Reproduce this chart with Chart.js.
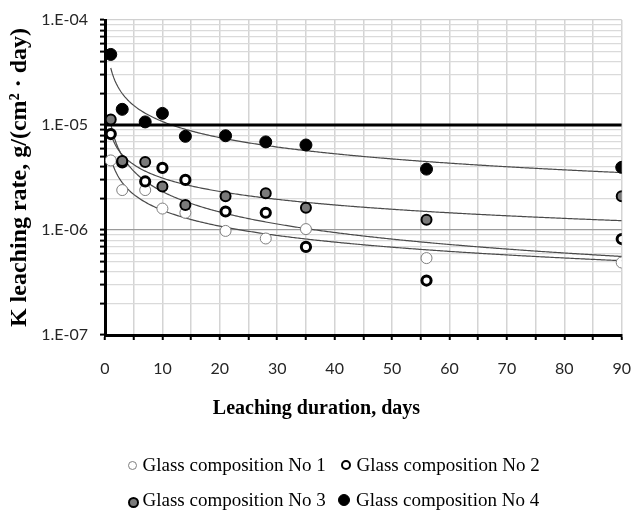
<!DOCTYPE html>
<html>
<head>
<meta charset="utf-8">
<script src="https://cdn.jsdelivr.net/npm/chart.js@4/dist/chart.umd.min.js"></script>
<style>
  html, body { margin: 0; padding: 0; background: #fff; }
  #wrap { position: relative; width: 633px; height: 511px; overflow: hidden; }
  #chart { position: absolute; left: 0; top: 0; }
  .xtitle { position: absolute; left: 0; width: 633px; top: 395px; text-align: center;
            font: bold 20px "Liberation Serif", serif; line-height: 24px; color: #000; }
  .item { position: absolute; font: 19px "Liberation Serif", serif; line-height: 22px;
          color: #000; white-space: nowrap; }
  .mk { position: absolute; border-radius: 50%; box-sizing: border-box; }
</style>
</head>
<body>
<div id="wrap">
  <canvas id="chart" width="633" height="511"></canvas>
  <div class="xtitle" id="xtitle"></div>
  <div id="legend"></div>
</div>
<script>
// Leaching duration, days
const days = [1, 3, 7, 10, 14, 21, 28, 35, 56, 90];

// K leaching rate, g/(cm2·day), per glass composition
const glass1 = [4.6e-6, 2.4e-6, 2.4e-6, 1.6e-6, 1.46e-6, 9.8e-7, 8.3e-7, 1.02e-6, 5.4e-7, 4.9e-7];
const glass2 = [8.2e-6, 4.4e-6, 2.9e-6, 3.9e-6, 3.0e-6, 1.5e-6, 1.46e-6, 6.9e-7, 3.3e-7, 8.2e-7];
const glass3 = [1.13e-5, 4.55e-6, 4.45e-6, 2.6e-6, 1.73e-6, 2.1e-6, 2.24e-6, 1.63e-6, 1.25e-6, 2.1e-6];
const glass4 = [4.7e-5, 1.41e-5, 1.07e-5, 1.29e-5, 7.8e-6, 7.9e-6, 6.9e-6, 6.45e-6, 3.8e-6, 3.95e-6];

const seriesNames = ['Glass composition No 1', 'Glass composition No 2',
                     'Glass composition No 3', 'Glass composition No 4'];

// Reference level drawn as a thick horizontal line
const limitRate = 1e-5;

// Axis ticks
const xTickValues = [0, 10, 20, 30, 40, 50, 60, 70, 80, 90];
const xTickLabels = ['0', '10', '20', '30', '40', '50', '60', '70', '80', '90'];
const yDecades = [1e-7, 1e-6, 1e-5, 1e-4];
const yTickLabels = ['1.E-07', '1.E-06', '1.E-05', '1.E-04'];

const xTitle = 'Leaching duration, days';
const yTitle = 'K leaching rate, g/(cm\u00B2 \u00B7 day)';

// Marker look for each composition
const markerStyles = [
  { fill: '#ffffff', edge: '#7f7f7f', edgeWidth: 1,   radius: 5.5 },
  { fill: '#ffffff', edge: '#000000', edgeWidth: 3,   radius: 4.6 },
  { fill: '#7a7a7a', edge: '#000000', edgeWidth: 2,   radius: 5 },
  { fill: '#000000', edge: '#000000', edgeWidth: 1,   radius: 6 }
];

// Least-squares power fit y = a * x^b (linear in log-log space)
function powerFit(xs, ys) {
  const lx = xs.map(Math.log10), ly = ys.map(Math.log10);
  const n = lx.length;
  const mx = lx.reduce((s, v) => s + v, 0) / n;
  const my = ly.reduce((s, v) => s + v, 0) / n;
  let sxy = 0, sxx = 0;
  for (let i = 0; i < n; i++) { sxy += (lx[i] - mx) * (ly[i] - my); sxx += (lx[i] - mx) ** 2; }
  const b = sxy / sxx;
  return { a: Math.pow(10, my - b * mx), b };
}

function trendPoints(xs, ys) {
  const f = powerFit(xs, ys);
  const x0 = xs[0], x1 = xs[xs.length - 1];
  const pts = [];
  for (let x = x0; x <= x1 + 1e-9; x += 0.25) pts.push({ x, y: f.a * Math.pow(x, f.b) });
  return pts;
}

const allSeries = [glass1, glass2, glass3, glass4];

const datasets = [];
allSeries.forEach((vals, i) => {
  const m = markerStyles[i];
  datasets.push({
    label: seriesNames[i],
    data: days.map((d, k) => ({ x: d, y: vals[k] })),
    showLine: false,
    pointRadius: m.radius,
    pointBackgroundColor: m.fill,
    pointBorderColor: m.edge,
    pointBorderWidth: m.edgeWidth,
    order: 4 - i
  });
});
allSeries.forEach((vals, i) => {
  datasets.push({
    label: 'trend ' + (i + 1),
    data: trendPoints(days, vals),
    showLine: true,
    borderColor: '#4a4a4a',
    borderWidth: 1.2,
    pointRadius: 0,
    order: 10
  });
});
datasets.push({
  label: 'limit',
  data: [{ x: 0, y: limitRate }, { x: 90, y: limitRate }],
  showLine: true,
  borderColor: '#000',
  borderWidth: 3,
  pointRadius: 0,
  order: 9
});

const isDecade = v => yDecades.findIndex(d => Math.abs(v / d - 1) < 1e-6);

new Chart(document.getElementById('chart'), {
  type: 'scatter',
  data: { datasets },
  options: {
    responsive: false,
    animation: false,
    events: [],
    layout: { autoPadding: false, padding: { left: 5, top: 20, right: 11, bottom: 136 } },
    plugins: { legend: { display: false }, tooltip: { enabled: false } },
    scales: {
      x: {
        type: 'linear',
        min: 0, max: 90,
        afterFit: s => { s.height = 40; },
        border: { color: '#000', width: 3 },
        grid: { color: '#d4d4d4', lineWidth: 1.5, tickColor: '#000', tickLength: 5, tickWidth: 2 },
        ticks: {
          stepSize: 5, autoSkip: false, maxRotation: 0, padding: 2,
          color: '#262626', font: { family: 'Lato', size: 16, lineHeight: '54px' },
          callback: v => { const k = xTickValues.indexOf(v); return k >= 0 ? xTickLabels[k] : ''; }
        }
      },
      y: {
        type: 'logarithmic',
        min: 1e-7, max: 1e-4,
        afterFit: s => { s.width = 100; },
        afterBuildTicks: s => {
          const t = [];
          yDecades.forEach((d, i) => {
            if (i === yDecades.length - 1) { t.push({ value: d }); return; }
            for (let m = 1; m <= 9; m++) t.push({ value: m * d });
          });
          s.ticks = t;
        },
        border: { color: '#000', width: 3 },
        grid: {
          color: c => {
            const k = isDecade(c.tick.value);
            if (k < 0) return '#dadada';
            return k === yDecades.length - 1 ? '#d0d0d0' : '#9a9a9a';
          },
          lineWidth: 1.2,
          tickColor: '#000', tickLength: 5, tickWidth: 2
        },
        ticks: {
          autoSkip: false, padding: 12,
          color: '#262626', font: { family: 'Lato', size: 16, lineHeight: 1 },
          callback: v => { const k = isDecade(v); return k >= 0 ? yTickLabels[k] : ''; }
        },
        title: {
          display: true, text: yTitle, color: '#000', padding: 0,
          font: { family: 'Liberation Serif', size: 24, weight: 'bold' }
        }
      }
    }
  }
});

// Axis title and legend as page text
document.getElementById('xtitle').textContent = xTitle;

const legendSpots = [
  { mx: 132.5, my: 465, size: 9,  tx: 142.5, ty: 454 },
  { mx: 345.5, my: 465, size: 10, tx: 356.5, ty: 454 },
  { mx: 133,   my: 502, size: 11, tx: 142.5, ty: 489 },
  { mx: 344,   my: 500, size: 12, tx: 356,   ty: 489 }
];
const legend = document.getElementById('legend');
seriesNames.forEach((name, i) => {
  const p = legendSpots[i], m = markerStyles[i];
  const mk = document.createElement('div');
  mk.className = 'mk';
  mk.style.left = (p.mx - p.size / 2) + 'px';
  mk.style.top = (p.my - p.size / 2) + 'px';
  mk.style.width = p.size + 'px';
  mk.style.height = p.size + 'px';
  mk.style.background = m.fill;
  mk.style.border = Math.min(m.edgeWidth, 2.5) + 'px solid ' + m.edge;
  legend.appendChild(mk);
  const tx = document.createElement('div');
  tx.className = 'item';
  tx.style.left = p.tx + 'px';
  tx.style.top = p.ty + 'px';
  tx.textContent = name;
  legend.appendChild(tx);
});
</script>
</body>
</html>
